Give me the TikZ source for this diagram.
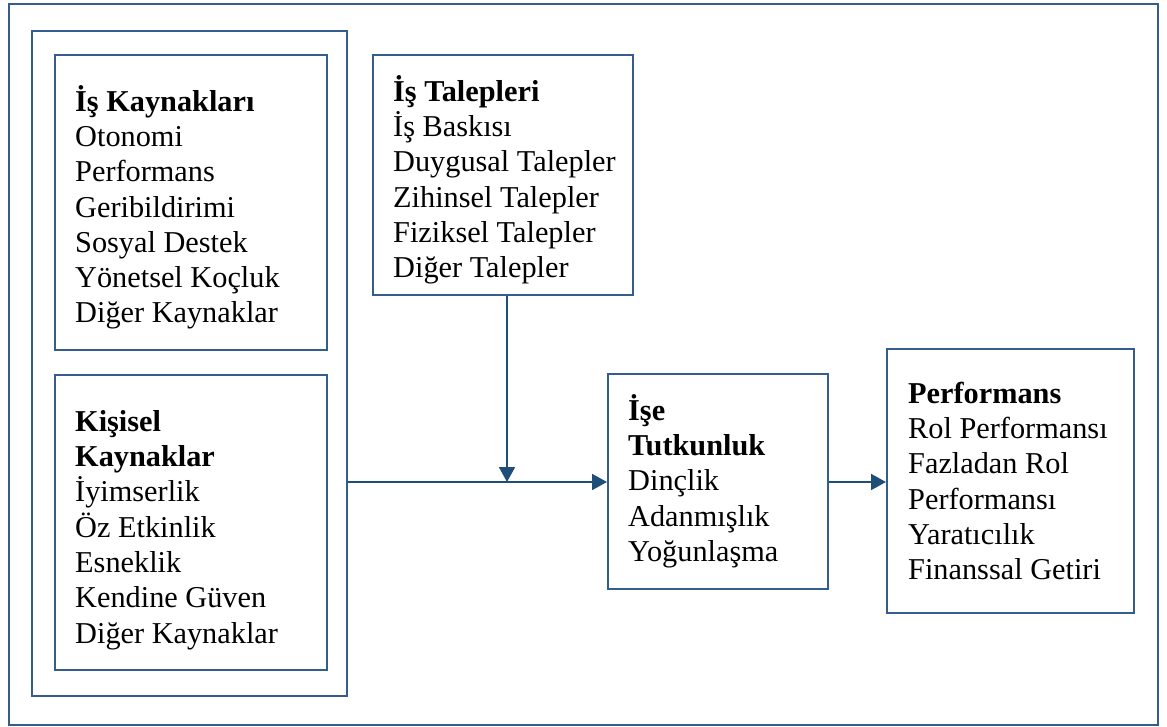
\documentclass[tikz,border=0pt]{standalone}
\usepackage{fontspec}
\setmainfont{Liberation Serif}
\usetikzlibrary{arrows.meta}
\definecolor{framecol}{RGB}{52,92,140}
\definecolor{arrowcol}{RGB}{31,78,121}
\begin{document}
\begin{tikzpicture}[x=1pt,y=-1pt,
  box/.style={draw=framecol,line width=2pt,inner sep=0pt,anchor=north west},
  txt/.style={inner sep=0pt,anchor=north west,align=left,
    font=\fontsize{30.3}{35.3}\selectfont},
  arr/.style={draw=arrowcol,line width=2pt,
    -{Triangle[length=15pt,width=16pt]}}]
\useasboundingbox (0,0) rectangle (1167,727);
% frames
\node[box,minimum width=1149pt,minimum height=721pt] (outer) at (8,3) {};
\node[box,minimum width=315pt,minimum height=665pt] (group) at (31,30) {};
\node[box,minimum width=272pt,minimum height=295pt] (kaynak) at (54,54) {};
\node[box,minimum width=272pt,minimum height=295pt] (kisisel) at (54,374) {};
\node[box,minimum width=260pt,minimum height=240pt] (talep) at (372,54) {};
\node[box,minimum width=220pt,minimum height=215pt] (tutku) at (607,373) {};
\node[box,minimum width=247pt,minimum height=264pt] (perf) at (886,348) {};
% box texts
\node[txt] (kaynakT) at (75,83) {\rule{0pt}{28pt}\textbf{İş Kaynakları}\\Otonomi\\Performans\\Geribildirimi\\Sosyal Destek\\Yönetsel Koçluk\\Diğer Kaynaklar};
\node[txt] (talepT) at (393,73) {\rule{0pt}{28pt}\textbf{İş Talepleri}\\İş Baskısı\\Duygusal Talepler\\Zihinsel Talepler\\Fiziksel Talepler\\Diğer Talepler};
\node[txt] (kisiselT) at (75,403) {\rule{0pt}{28pt}\textbf{Kişisel}\\\textbf{Kaynaklar}\\İyimserlik\\Öz Etkinlik\\Esneklik\\Kendine Güven\\Diğer Kaynaklar};
\node[txt] (tutkuT) at (628,392) {\rule{0pt}{28pt}\textbf{İşe}\\\textbf{Tutkunluk}\\Dinçlik\\Adanmışlık\\Yoğunlaşma};
\node[txt] (perfT) at (908,375) {\rule{0pt}{28pt}\textbf{Performans}\\Rol Performansı\\Fazladan Rol\\Performansı\\Yaratıcılık\\Finanssal Getiri};
% connectors
\coordinate (join) at (507,482);
\draw[arr] (talep.south -| join) -- (join);
\draw[arr] (group.east |- join) -- (tutku.west |- join);
\draw[arr] (tutku.east |- join) -- (perf.west |- join);
\end{tikzpicture}
\end{document}
